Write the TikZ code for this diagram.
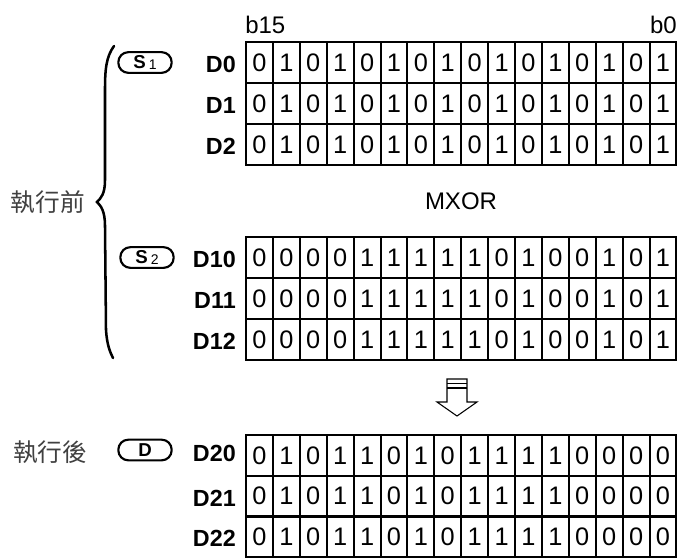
\documentclass[tikz,border=0pt]{standalone}
\usepackage{fontspec}
\setmainfont{Liberation Sans}
\newfontfamily\cjk{Noto Sans CJK TC}
\begin{document}
\begin{tikzpicture}[x=0.75pt,y=-0.75pt,
  cell/.style={draw,line width=1.5pt,minimum width=20.175pt,minimum height=30.75pt,inner sep=0pt,font=\fontsize{19}{19}\selectfont},
  reglabel/.style={anchor=east,font=\bfseries\fontsize{17.5}{17.5}\selectfont,inner sep=0pt},
  oval/.style={draw,line width=1.6pt,rounded corners=7.5pt,minimum width=40pt,minimum height=15.5pt,inner sep=0pt,font=\bfseries\fontsize{14}{14}\selectfont},
  cjklabel/.style={font=\cjk\fontsize{18.5}{18.5}\selectfont,text=black!75,inner sep=0pt},
  bitlabel/.style={font=\fontsize{18}{18}\selectfont,inner sep=0pt}]
\useasboundingbox (0,0) rectangle (678,557);
\newcommand\bitrow[3]{%
  \foreach \bb [count=\ii from 0] in {#3} {
    \node[cell] (#1-\ii) at ({246+26.9*\ii+13.45},#2) {\bb};
  }}
% bit labels
\node[bitlabel,anchor=west] (b15) at (245,25) {b15};
\node[bitlabel,anchor=east] (b0) at (677,25) {b0};
% top grid
\bitrow{d0}{62.5}{0,1,0,1,0,1,0,1,0,1,0,1,0,1,0,1}
\bitrow{d1}{103.5}{0,1,0,1,0,1,0,1,0,1,0,1,0,1,0,1}
\bitrow{d2}{144.5}{0,1,0,1,0,1,0,1,0,1,0,1,0,1,0,1}
\node[reglabel] (l0) at (236,64) {D0};
\node[reglabel] (l1) at (236,105) {D1};
\node[reglabel] (l2) at (236,146) {D2};
% MXOR
\node[bitlabel] (mxor) at (461,201) {MXOR};
% middle grid
\bitrow{d10}{257.5}{0,0,0,0,1,1,1,1,1,0,1,0,0,1,0,1}
\bitrow{d11}{298.5}{0,0,0,0,1,1,1,1,1,0,1,0,0,1,0,1}
\bitrow{d12}{339.5}{0,0,0,0,1,1,1,1,1,0,1,0,0,1,0,1}
\node[reglabel] (l10) at (236,259) {D10};
\node[reglabel] (l11) at (236,300) {D11};
\node[reglabel] (l12) at (236,341) {D12};
% bottom grid
\bitrow{d20}{455.5}{0,1,0,1,1,0,1,0,1,1,1,1,0,0,0,0}
\bitrow{d21}{496.2}{0,1,0,1,1,0,1,0,1,1,1,1,0,0,0,0}
\bitrow{d22}{536.9}{0,1,0,1,1,0,1,0,1,1,1,1,0,0,0,0}
\node[reglabel] (l20) at (236,453) {D20};
\node[reglabel] (l21) at (236,498) {D21};
\node[reglabel] (l22) at (236,538) {D22};
% ovals
\node[oval] (s1) at (145,62.5) {S\,\raisebox{-0.5pt}{\mdseries\fontsize{10.5}{10.5}\selectfont 1}};
\node[oval] (s2) at (147,257.5) {S\,\raisebox{-0.5pt}{\mdseries\fontsize{10.5}{10.5}\selectfont 2}};
\node[oval] (dd) at (145,450) {D};
% chinese labels
\node[cjklabel] (before) at (48,202) {執行前};
\node[cjklabel] (after) at (50,452) {執行後};
% brace
\draw[line width=1.9pt,line cap=round] (114,46) .. controls (106,57) and (105,70) .. (105,90) -- (105,180) .. controls (105,194) and (101,198) .. (97,202) .. controls (101,206) and (105,211) .. (105,226) -- (106,330) .. controls (107,345) and (110,352) .. (113,358);
% arrow
\draw[line width=0.8pt,line join=miter] (447,379) -- (467,379) -- (467,402) -- (477,402) -- (457,416) -- (437,402) -- (447,402) -- cycle;
\draw[line width=0.8pt] (447,383.7) -- (467,383.7);
\draw[line width=0.8pt] (447,388) -- (467,388);
\end{tikzpicture}
\end{document}
